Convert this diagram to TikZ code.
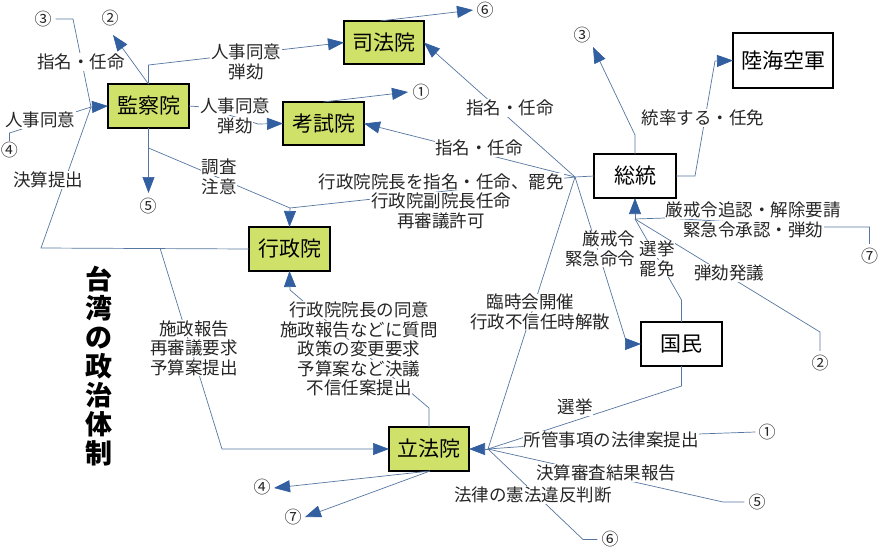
\documentclass[tikz,border=0pt]{standalone}
\usepackage{fontspec}
\setmainfont{Noto Sans CJK JP}
\usetikzlibrary{arrows.meta}
\definecolor{boxgreen}{RGB}{208,225,105}
\definecolor{lineblue}{RGB}{85,118,160}
\definecolor{arrowblue}{RGB}{50,95,160}
\newcommand{\wb}[1]{{\setlength{\fboxsep}{0.6pt}\colorbox{white}{#1}}}
\begin{document}
\begin{tikzpicture}[x=1pt,y=-1pt,
  box/.style={draw=black, line width=1.1pt, fill=boxgreen, minimum width=81pt, minimum height=44pt, inner sep=0pt, outer sep=0pt, font=\fontsize{21}{21}\selectfont},
  wbox/.style={box, fill=white},
  lbl/.style={align=center, inner sep=0pt, font=\fontsize{17.5}{19.5}\selectfont, text=black!85},
  num/.style={inner sep=0pt, font=\fontsize{17}{17}\selectfont, text=black!85},
  con/.style={draw=lineblue, line width=0.7pt},
  arr/.style={con, -{Triangle[length=16pt,width=12pt,color=arrowblue]}},
]
\useasboundingbox (0,0) rectangle (879,549);

% boxes
\node[box] (kansatsu) at (148.5,106) {監察院};
\node[box, minimum width=80pt, minimum height=43pt] (shiho) at (384,42.5) {司法院};
\node[box, minimum height=43pt] (koshi) at (323.5,123.5) {考試院};
\node[box] (gyosei) at (289.5,249) {行政院};
\node[box, minimum width=80pt] (rippo) at (429,449) {立法院};
\node[wbox, minimum width=100pt, minimum height=55pt] (rikkai) at (783,60.5) {陸海空軍};
\node[wbox, minimum width=82pt] (soto) at (635,176) {総統};
\node[wbox] (kokumin) at (681.5,344) {国民};

% title
\node[font=\fontsize{27}{29}\selectfont\bfseries, align=center, inner sep=0pt] (title) at (99,366) {台\\湾\\の\\政\\治\\体\\制};

% circled numbers
\node[num] (n3a) at (43,19) {③};
\node[num] (n2a) at (110,18) {②};
\node[num] (n4a) at (9.5,150) {④};
\node[num] (n5a) at (148,206) {⑤};
\node[num] (n1a) at (421,92) {①};
\node[num] (n6a) at (485,10) {⑥};
\node[num] (n3b) at (582,35) {③};
\node[num] (n7a) at (869.5,256) {⑦};
\node[num] (n2b) at (820,363) {②};
\node[num] (n1b) at (767,432) {①};
\node[num] (n5b) at (757,502) {⑤};
\node[num] (n6b) at (610,539.5) {⑥};
\node[num] (n4b) at (262,487) {④};
\node[num] (n7b) at (293,517) {⑦};

% junctions and free ends
\coordinate (J1) at (91,107);
\coordinate (J2) at (575,177);
\coordinate (J3) at (488,449);
\coordinate (J4) at (635,219);
\coordinate (J5) at (290,208);
\coordinate (J6) at (290,290);
\coordinate (K1) at (148.5,148);
\coordinate (K2) at (160,248);
\coordinate (t2a) at (113,35);
\coordinate (t1a) at (408,92);
\coordinate (t6a) at (473,10);
\coordinate (t5a) at (148.5,193);
\coordinate (t3b) at (593,47);
\coordinate (t4b) at (274,488);
\coordinate (t7b) at (305,517);

% connectors
\draw[arr] (kansatsu.north) -- (148.5,65) -- (shiho.west);
\draw[arr] (kansatsu.north) -- (t2a);
\draw[con] ([xshift=4pt]n3a.east) -- (73,19) -- (J1);
\draw[con] ([yshift=1pt]n4a.north) -- (9.5,133) -- (J1);
\draw[con] (gyosei.west) -- (41,248) -- (J1);
\draw[arr] (J1) -- (kansatsu.west);
\draw[arr] (kansatsu.east) -- (203,107) -- (258,124) -- (koshi.west);
\draw[arr] (koshi.north) -- (t1a);
\draw[arr] ([xshift=-4pt]shiho.north) -- (t6a);
\draw[arr] (kansatsu.south) -- (t5a);
\draw[arr] (K1) -- (J5) -- (gyosei.north);
\draw[con] (J2) -- (J5);
\draw[arr] (J2) -- (shiho.east);
\draw[arr] (J2) -- (koshi.east);
\draw[con] (J2) -- (soto.west);
\draw[con] (J2) -- (J3);
\draw[arr] (J2) -- (627,344) -- (kokumin.west);
\draw[arr] (soto.north) -- (635,135) -- (t3b);
\draw[arr] (soto.east) -- (695,176) -- (715,61) -- (rikkai.west);
\draw[con] ([yshift=4pt]n7a.north) -- (869.5,227) -- (822,227) -- (665,218) -- (J4);
\draw[con] ([yshift=4pt]n2b.north) -- (820,332) -- (J4);
\draw[con] (kokumin.north) -- (681.5,300) -- (J4);
\draw[arr] (J4) -- (soto.south);
\draw[con] (kokumin.south) -- (681.5,386) -- (J3);
\draw[con] ([xshift=-3pt]n1b.west) -- (698,434) -- (J3);
\draw[con] ([xshift=-4pt]n5b.west) -- (723,502) -- (J3);
\draw[con] ([xshift=-4pt]n6b.west) -- (583,539.5) -- (J3);
\draw[arr] (J3) -- (rippo.east);
\draw[arr] ([xshift=1pt]rippo.south) -- (t4b);
\draw[arr] ([xshift=1pt]rippo.south) -- (t7b);
\draw[arr] (rippo.north) -- (429,408) -- (J6) -- (gyosei.south);
\draw[arr] (K2) -- (222,449) -- (rippo.west);

% labels
\node[lbl] (l1) at (246,62) {\wb{人事同意}\\\wb{弾劾}};
\node[lbl] (l2) at (81,62) {\wb{指名・任命}};
\node[lbl] (l3) at (40,120) {\wb{人事同意}};
\node[lbl] (l4) at (48,180) {\wb{決算提出}};
\node[lbl] (l5) at (235,116) {\wb{人事同意}\\\wb{弾劾}};
\node[lbl] (l6) at (219,177) {\wb{調査}\\\wb{注意}};
\node[lbl] (l7) at (441,201) {\wb{行政院院長を指名・任命、罷免}\\\wb{行政院副院長任命}\\\wb{再審議許可}};
\node[lbl] (l8) at (510,108) {\wb{指名・任命}};
\node[lbl] (l9) at (479,148) {\wb{指名・任命}};
\node[lbl] (l10) at (540,312) {\wb{臨時会開催}\hspace*{19pt}\\\wb{行政不信任時解散}};
\node[lbl, align=right] (l11) at (600,249) {\wb{厳戒令}\\\wb{緊急命令}};
\node[lbl] (l12) at (703,118) {\wb{統率する・任免}};
\node[lbl] (l13) at (753,220) {\wb{厳戒令追認・解除要請}\\\wb{緊急令承認・弾劾}};
\node[lbl] (l14) at (657,259) {\wb{選挙}\\\wb{罷免}};
\node[lbl] (l15) at (729,273) {\wb{弾劾発議}};
\node[lbl] (l16) at (575,407) {\wb{選挙}};
\node[lbl] (l17) at (611,440) {\wb{所管事項の法律案提出}};
\node[lbl] (l18) at (606,473) {\wb{決算審査結果報告}};
\node[lbl] (l19) at (533,495) {\wb{法律の憲法違反判断}};
\node[lbl] (l20) at (359,349) {\wb{行政院院長の同意}\\\wb{施政報告などに質問}\\\wb{政策の変更要求}\\\wb{予算案など決議}\\\wb{不信任案提出}};
\node[lbl] (l21) at (194,348) {\wb{施政報告}\\\wb{再審議要求}\\\wb{予算案提出}};
\end{tikzpicture}
\end{document}
